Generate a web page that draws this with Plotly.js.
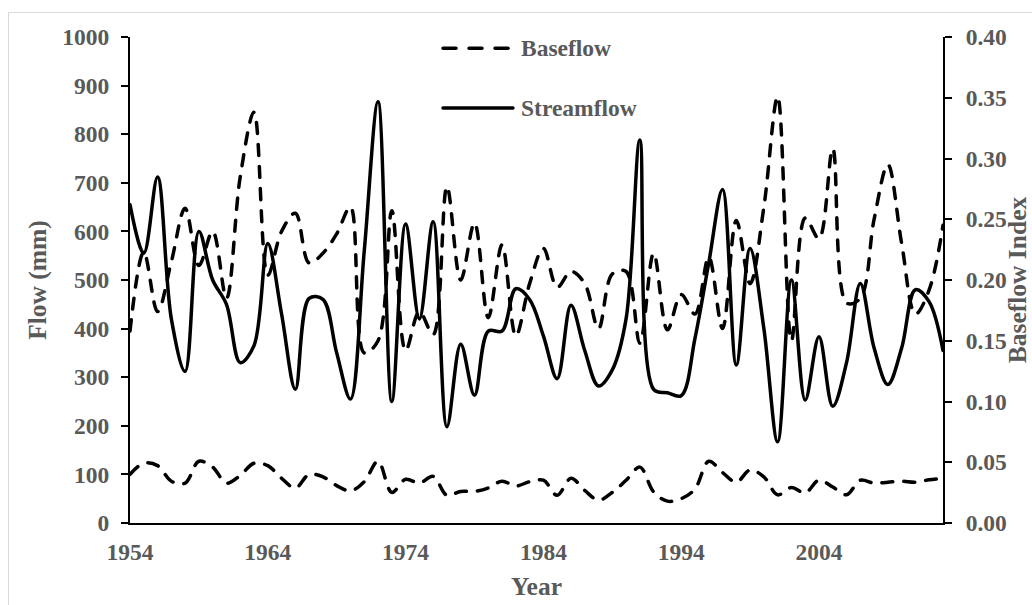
<!DOCTYPE html>
<html>
<head>
<meta charset="utf-8">
<script src="https://cdn.plot.ly/plotly-3.0.1.min.js"></script>
<style>
  html, body { margin: 0; padding: 0; width: 1032px; height: 605px; overflow: hidden; background: #fff; }
  #frame { position: absolute; left: 8px; top: 12px; width: 1100px; height: 700px; border: 1px solid #d9d9d9; }
  #chart { position: absolute; left: 0; top: 0; width: 1032px; height: 605px; }
  .js-line { stroke-linecap: round; }
  .shapelayer path { stroke-linecap: round; }
</style>
</head>
<body>
<div id="frame"></div>
<div id="chart"></div>
<script>
const years = [1954,1955,1956,1957,1958,1959,1960,1961,1962,1963,
               1964,1965,1966,1967,1968,1969,1970,1971,1972,1973,
               1974,1975,1976,1977,1978,1979,1980,1981,1982,1983,
               1984,1985,1986,1987,1988,1989,1990,1991,1992,1993,
               1994,1995,1996,1997,1998,1999,2000,2001,2002,2003,
               2004,2005,2006,2007,2008,2009,2010,2011,2012,2013];

// Streamflow (mm), left axis
const streamflow = [655,555,712,420,312,600,500,450,330,365,
                    575,430,275,462,460,350,255,560,867,250,
                    615,420,620,198,368,263,395,395,482,460,
                    385,297,448,355,282,315,420,788,275,268,
                    262,380,535,686,325,565,400,167,500,253,
                    383,240,330,493,360,285,360,480,455,355];

// Baseflow (mm), left axis
const baseflow = [100,123,118,86,82,127,115,82,98,123,
                  118,92,72,100,95,77,66,85,127,63,
                  90,82,96,57,65,65,72,86,76,85,
                  88,57,92,67,47,63,88,115,64,45,
                  50,70,127,104,84,109,95,58,73,62,
                  88,74,58,88,82,84,86,84,89,92];

// Baseflow Index, right axis
const baseflowIndex = [0.158,0.223,0.174,0.215,0.259,0.212,0.240,0.185,0.285,0.338,
                       0.204,0.240,0.255,0.214,0.222,0.238,0.260,0.140,0.150,0.257,
                       0.142,0.174,0.155,0.277,0.200,0.247,0.169,0.229,0.154,0.197,
                       0.226,0.194,0.207,0.197,0.160,0.205,0.207,0.148,0.222,0.159,
                       0.188,0.172,0.219,0.160,0.249,0.197,0.260,0.351,0.150,0.251,
                       0.234,0.308,0.181,0.185,0.250,0.295,0.230,0.172,0.192,0.245];

const xTickVals = [1954,1964,1974,1984,1994,2004];
const xTickText = ['1954','1964','1974','1984','1994','2004'];
const legendNames = ['Baseflow','Streamflow'];

const FONT = 'Times New Roman, Liberation Serif, serif';
const GRAY = '#595959';
const DASH = '11px,11px';
const LW = 3.5;

const traces = [
  {x: years, y: baseflowIndex, yaxis: 'y2', name: 'Baseflow Index', type: 'scatter', mode: 'lines',
   line: {color: '#000', width: LW, dash: DASH, shape: 'spline', smoothing: 1}, showlegend: false},
  {x: years, y: streamflow, name: legendNames[1], type: 'scatter', mode: 'lines',
   line: {color: '#000', width: LW, shape: 'spline', smoothing: 1}, showlegend: false},
  {x: years, y: baseflow, name: legendNames[0], type: 'scatter', mode: 'lines',
   line: {color: '#000', width: LW, dash: DASH, shape: 'spline', smoothing: 1}, showlegend: false}
];

const tickFont = {family: FONT, size: 23.5, color: GRAY, weight: 700};
const titleFont = {family: FONT, size: 25.5, color: GRAY, weight: 700};

// manual legend (paper coordinates)
const legX0 = 0.385, legX1 = 0.471, legTx = 0.4785;
const legY = [0.977, 0.854];

const layout = {
  width: 1032, height: 605,
  margin: {l: 130, r: 89, t: 37, b: 82, pad: 0},
  paper_bgcolor: 'rgba(0,0,0,0)',
  plot_bgcolor: 'rgba(0,0,0,0)',
  showlegend: false,
  xaxis: {
    range: [1954, 2013], tickmode: 'array', tickvals: xTickVals, ticktext: xTickText,
    showgrid: false, zeroline: false, showline: true, linecolor: '#000', linewidth: 2,
    ticks: '', tickfont: tickFont, ticklabelstandoff: 7,
    title: {text: 'Year', font: titleFont, standoff: 13}
  },
  yaxis: {
    range: [0, 1000], dtick: 100, tick0: 0,
    showgrid: false, zeroline: false, showline: true, linecolor: '#000', linewidth: 2,
    ticks: 'outside', ticklen: 7, tickwidth: 2, tickcolor: '#000',
    tickfont: tickFont, ticklabelstandoff: 7,
    title: {text: 'Flow (mm)', font: titleFont, standoff: 8}
  },
  yaxis2: {
    overlaying: 'y', side: 'right', range: [0, 0.40], dtick: 0.05, tick0: 0, tickformat: '.2f',
    showgrid: false, zeroline: false, showline: true, linecolor: '#000', linewidth: 2,
    ticks: 'outside', ticklen: 7, tickwidth: 2, tickcolor: '#000',
    tickfont: tickFont, ticklabelstandoff: 9,
    title: {text: 'Baseflow Index', font: titleFont, standoff: 10}
  },
  shapes: [
    {type: 'line', xref: 'paper', yref: 'paper', x0: legX0, x1: legX1, y0: legY[0], y1: legY[0],
     line: {color: '#000', width: LW, dash: '13px,13px'}},
    {type: 'line', xref: 'paper', yref: 'paper', x0: legX0, x1: legX1, y0: legY[1], y1: legY[1],
     line: {color: '#000', width: LW}}
  ],
  annotations: [
    {xref: 'paper', yref: 'paper', x: legTx, y: legY[0], xanchor: 'left', yanchor: 'middle',
     text: legendNames[0], showarrow: false, font: tickFont},
    {xref: 'paper', yref: 'paper', x: legTx, y: legY[1], xanchor: 'left', yanchor: 'middle',
     text: legendNames[1], showarrow: false, font: tickFont}
  ]
};

Plotly.newPlot('chart', traces, layout, {displayModeBar: false, staticPlot: true});
</script>
</body>
</html>
